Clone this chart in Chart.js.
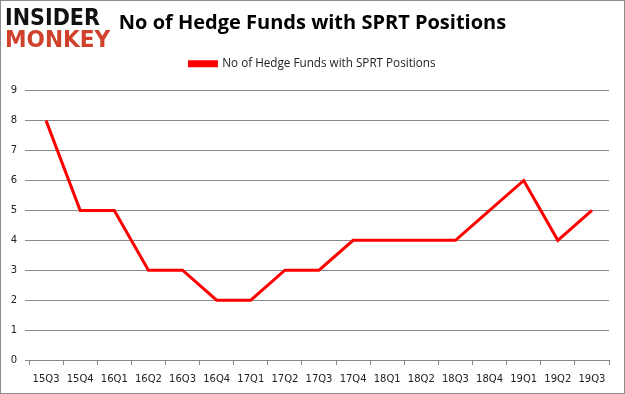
<!DOCTYPE html>
<html>
<head>
<meta charset="utf-8">
<script src="https://cdn.jsdelivr.net/npm/chart.js@4.4.1/dist/chart.umd.min.js"></script>
<style>
  html, body { margin: 0; padding: 0; background: #fff; }
  #wrap { position: relative; width: 625px; height: 394px; }
  #chart { position: absolute; left: 0; top: 0; }
  .logo { position: absolute; left: 5px; font-family: "DejaVu Sans", sans-serif; font-weight: bold;
          font-size: 23px; line-height: 23px; transform: scaleX(0.9); transform-origin: left; }
  #logo1 { top: 6px; color: #111; }
  #logo2 { top: 28px; color: #d0412c; transform: scaleX(0.94); }
</style>
</head>
<body>
<div id="wrap">
  <canvas id="chart" width="625" height="394"></canvas>
  <div class="logo" id="logo1">INSIDER</div>
  <div class="logo" id="logo2">MONKEY</div>
</div>
<script>
// dados
const quarters = ['15Q3', '15Q4', '16Q1', '16Q2', '16Q3', '16Q4', '17Q1', '17Q2', '17Q3',
                  '17Q4', '18Q1', '18Q2', '18Q3', '18Q4', '19Q1', '19Q2', '19Q3'];
const hedgeFunds = [8, 5, 5, 3, 3, 2, 2, 3, 3, 4, 4, 4, 4, 5, 6, 4, 5];
const seriesLabel = 'No of Hedge Funds with SPRT Positions';
const chartTitle = 'No of Hedge Funds with SPRT Positions';

// moldura cinza em volta da imagem
const borderPlugin = {
    id: 'frame',
    afterDraw(chart) {
        const ctx = chart.ctx;
        ctx.save();
        ctx.strokeStyle = '#8c8c8c';
        ctx.lineWidth = 1;
        ctx.strokeRect(0.5, 0.5, chart.width - 1, chart.height - 1);
        ctx.restore();
    }
};

const ctx = document.getElementById('chart').getContext('2d');
new Chart(ctx, {
    type: 'line',
    data: {
        labels: quarters,
        datasets: [{
            label: seriesLabel,
            data: hedgeFunds,
            borderColor: '#ff0000',
            backgroundColor: '#ff0000',
            borderWidth: 3,
            pointRadius: 0,
            tension: 0
        }]
    },
    options: {
        responsive: false,
        animation: false,
        layout: { padding: 0 },
        plugins: {
            title: {
                display: true,
                text: chartTitle,
                color: '#000',
                font: { family: 'Open Sans', size: 20, weight: 'bold' },
                padding: { top: 11, bottom: 2 }
            },
            legend: {
                display: true,
                labels: {
                    color: '#222',
                    font: { family: 'Open Sans', size: 11.7 },
                    boxWidth: 27,
                    boxHeight: 4,
                    padding: 21
                }
            },
            tooltip: { enabled: false }
        },
        scales: {
            x: {
                offset: true,
                grid: { offset: true, drawOnChartArea: false, drawTicks: true, tickLength: 5, color: '#888' },
                border: { color: '#888' },
                ticks: { color: '#222', font: { family: 'DejaVu Sans', size: 10 }, padding: 8, maxRotation: 0, autoSkip: false },
                afterFit(scale) { scale.height = 34; }
            },
            // eixo vazio no topo só para reservar o espaço abaixo da legenda
            xTop: {
                type: 'category',
                position: 'top',
                display: true,
                grid: { display: false },
                border: { display: false },
                ticks: { display: false },
                afterFit(scale) { scale.height = 11; }
            },
            y: {
                min: 0,
                max: 9,
                grid: { color: '#888', tickLength: 4 },
                border: { display: false },
                ticks: { stepSize: 1, color: '#222', font: { family: 'DejaVu Sans', size: 10 }, padding: 8 },
                afterFit(scale) { scale.width = 29; }
            },
            // eixo vazio à direita só para reservar a margem
            yRight: {
                position: 'right',
                display: true,
                grid: { display: false },
                border: { display: false },
                ticks: { display: false },
                afterFit(scale) { scale.width = 16; }
            }
        }
    },
    plugins: [borderPlugin]
});
</script>
</body>
</html>
